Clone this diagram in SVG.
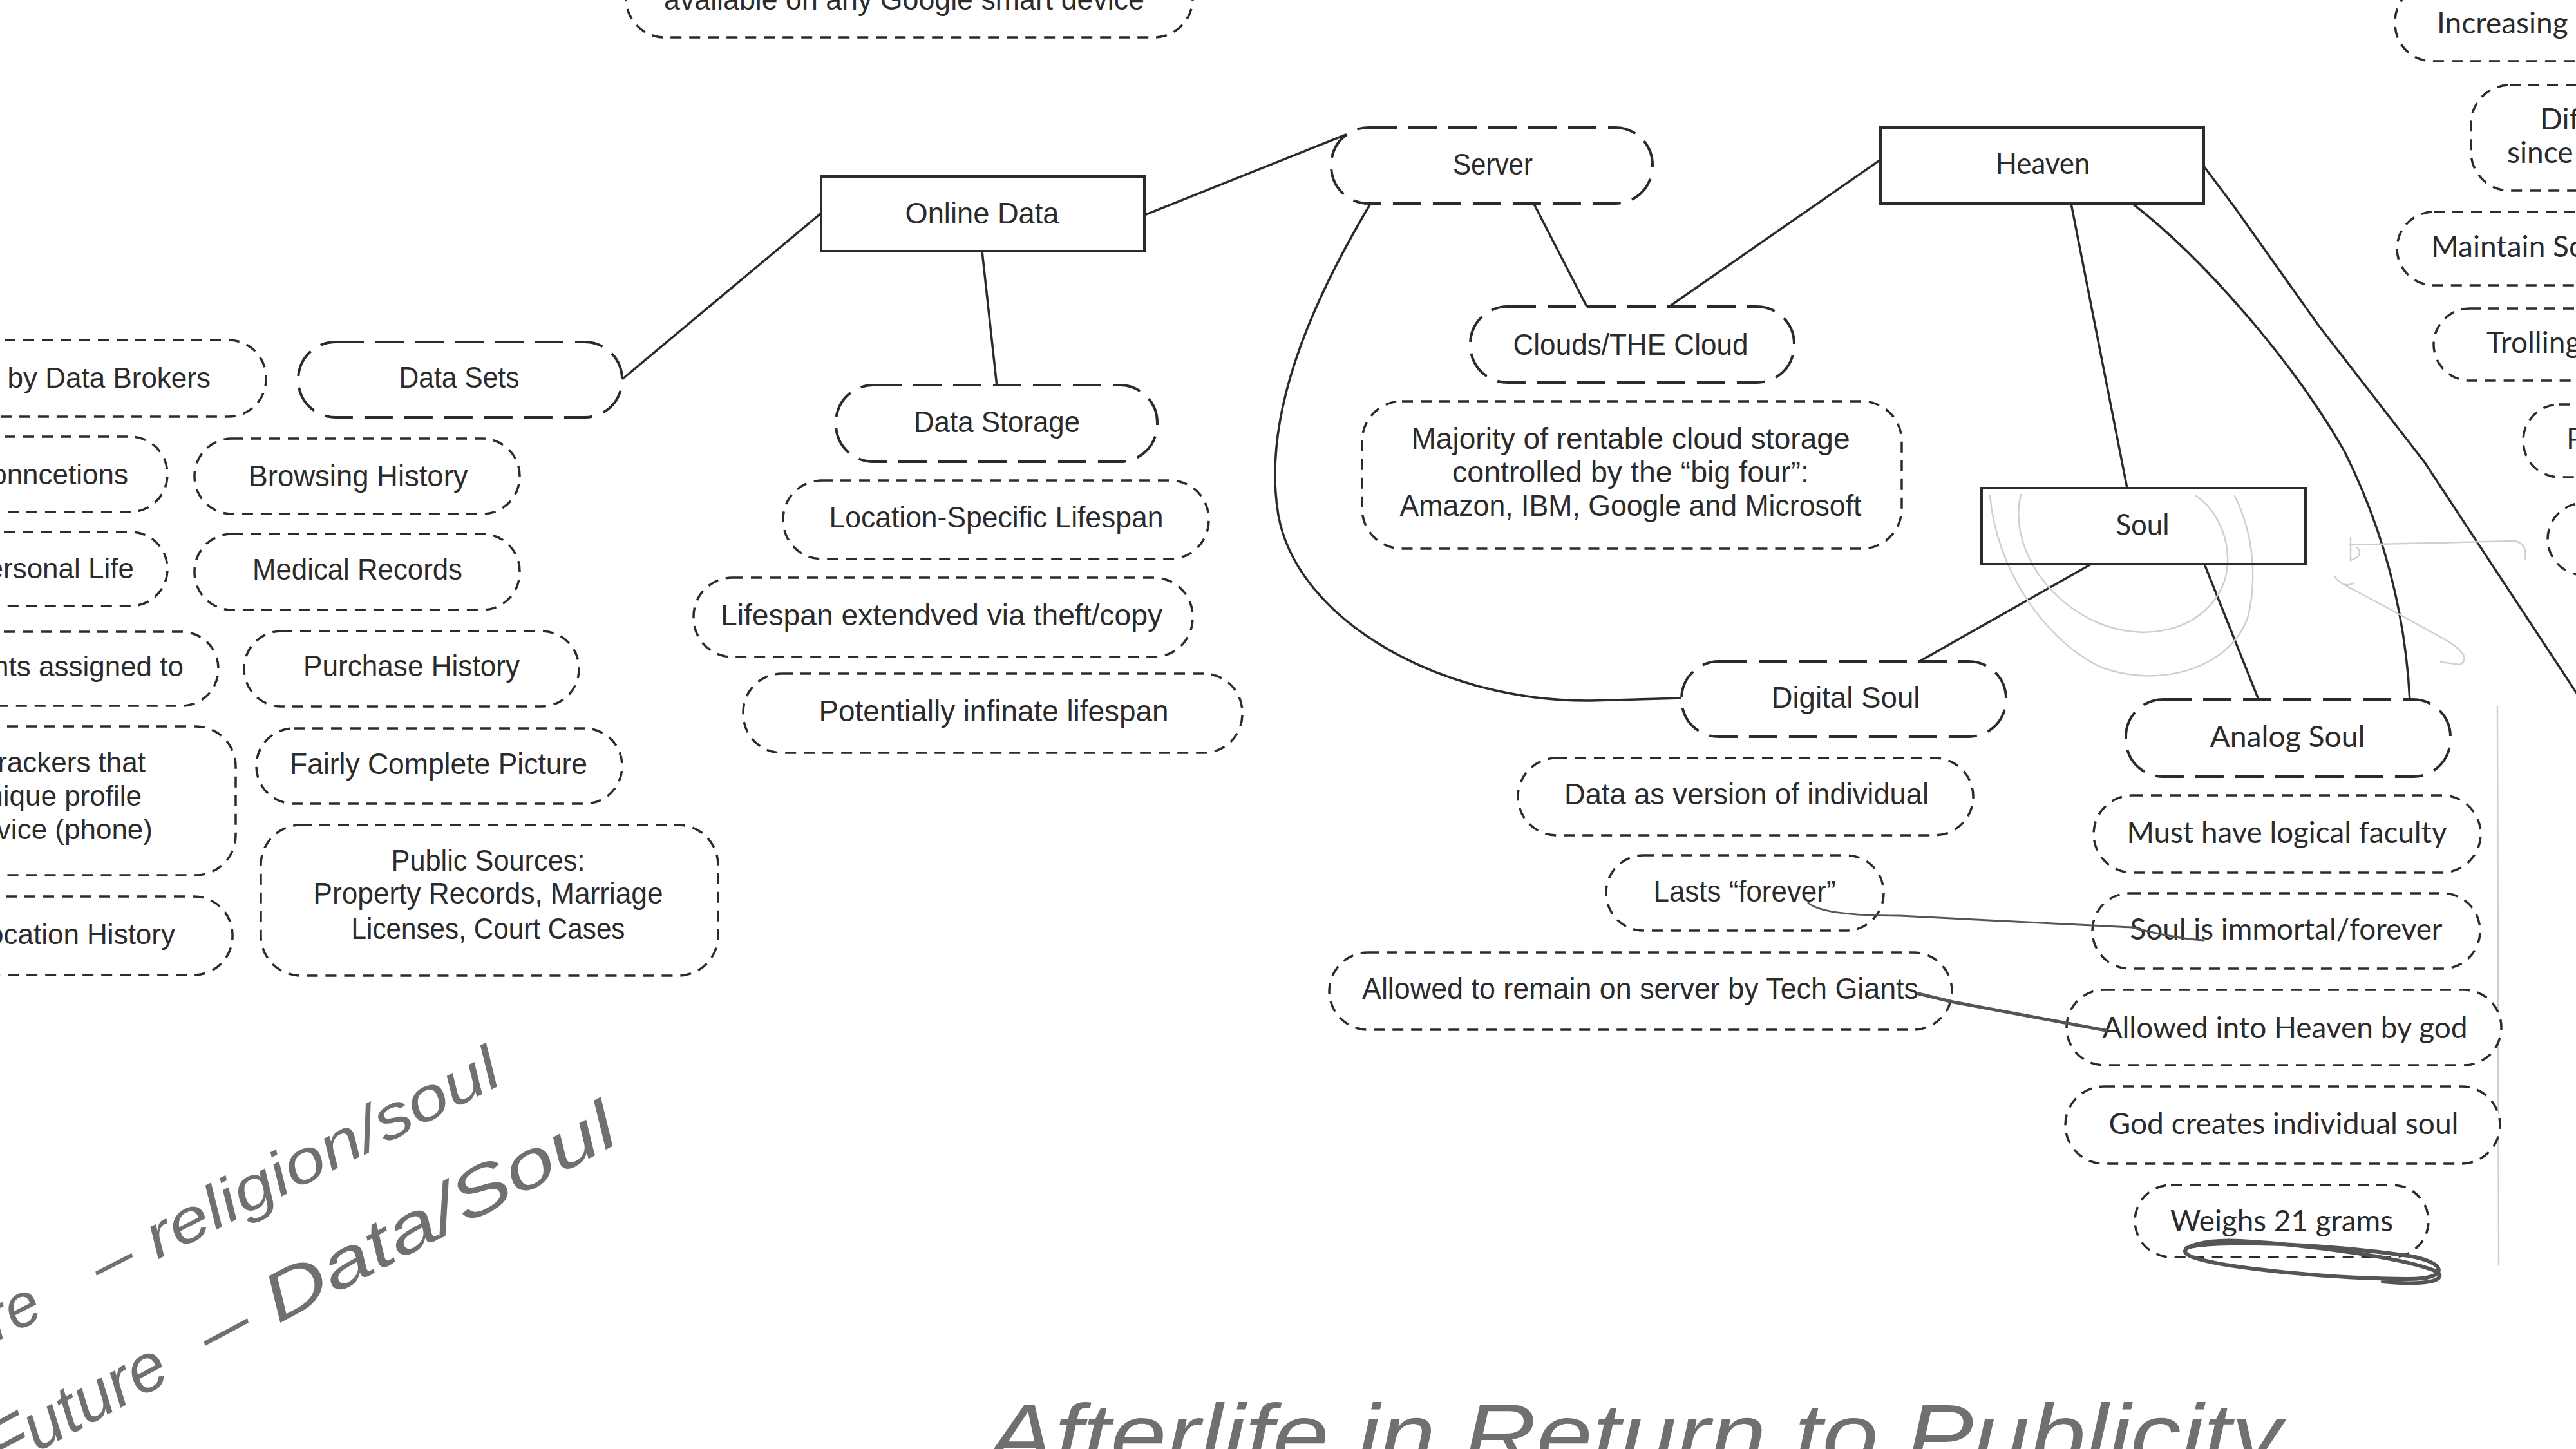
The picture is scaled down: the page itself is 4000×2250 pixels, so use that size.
<svg xmlns="http://www.w3.org/2000/svg" width="4000" height="2250" viewBox="0 0 4000 2250">
<style>
  .solid{fill:#fff;stroke:#2b2b2b;stroke-width:4}
  .ld{fill:#fff;stroke:#2b2b2b;stroke-width:4;stroke-dasharray:44 18}
  .sd{fill:#fff;stroke:#2b2b2b;stroke-width:3.5;stroke-dasharray:17 12}
  .t{font-family:"Liberation Sans",Arial,sans-serif;font-size:46px;fill:#2b2b2b;text-anchor:middle}
  .te{font-family:"Liberation Sans",Arial,sans-serif;font-size:44px;fill:#2b2b2b;text-anchor:end}
  .g{font-family:Lato,"Open Sans",sans-serif;font-size:46px;fill:#2b2b2b;text-anchor:middle}
  .gs{font-family:Lato,"Open Sans",sans-serif;font-size:46px;fill:#2b2b2b;text-anchor:start}
  .conn{fill:none;stroke:#2b2b2b;stroke-width:3.5}
  .pen{fill:none;stroke:#555;stroke-linecap:round;stroke-linejoin:round}
  .faint{fill:none;stroke:#cfcfcf;stroke-width:2.5;stroke-linecap:round}
  .hw{font-family:"Liberation Sans",Arial,sans-serif;fill:#707070;font-style:italic}
</style>
<rect x="0" y="0" width="4000" height="2250" fill="#fff"/>

<g id="connectors">
  <path class="conn" d="M966,589 L1275,331"/>
  <path class="conn" d="M1525,390 L1548,600"/>
  <path class="conn" d="M1777,334 L2090,209"/>
  <path class="conn" d="M2381,315 L2465,478"/>
  <path class="conn" d="M2920,248 L2589,478"/>
  <path class="conn" d="M2130,313 C2030,480 1960,650 1985,800 C2015,965 2240,1090 2470,1088 L2612,1084"/>
  <path class="conn" d="M3216,316 L3303,758"/>
  <path class="conn" d="M3311,316 C3420,400 3560,560 3640,700 C3700,820 3735,950 3742,1088"/>
  <path class="conn" d="M3422,258 L3470,322 L3600,505 L3765,718 L4010,1090"/>
  <path class="conn" d="M3247,876 L2977,1029"/>
  <path class="conn" d="M3423,876 L3507,1086"/>
</g>

<g id="faint-marks">
  <path class="faint" d="M3138,768 C3120,840 3170,930 3260,968 C3340,1000 3430,975 3455,900 C3470,840 3440,790 3410,770"/>
  <path class="faint" d="M3090,770 C3100,880 3170,990 3260,1035 C3350,1070 3460,1040 3490,960 C3505,900 3500,830 3470,770"/>
  <path class="faint" d="M3648,846 L3905,840 Q3925,845 3921,868"/>
  <path class="faint" d="M3650,835 L3650,870 Q3672,862 3660,850"/>
  <path class="faint" d="M3625,895 Q3640,915 3655,905 M3640,908 Q3720,950 3800,995 Q3840,1020 3820,1032 L3790,1028"/>
  <path class="faint" d="M3878,1097 L3880,1964" stroke="#e2e2e2"/>
</g>

<g id="n-google"><rect class="sd" x="972" y="-120" width="880" height="178" rx="60"/><text class="t" x="1404" y="15" textLength="746" lengthAdjust="spacingAndGlyphs">available on any Google smart device</text></g>
<g id="n-online"><rect class="solid" x="1275" y="274" width="502" height="116"/><text class="t" x="1525" y="347" textLength="239" lengthAdjust="spacingAndGlyphs">Online Data</text></g>
<g id="n-server"><rect class="ld" x="2067" y="198" width="499" height="118" rx="58"/><text class="t" x="2318" y="271" textLength="124" lengthAdjust="spacingAndGlyphs">Server</text></g>
<g id="n-heaven"><rect class="solid" x="2920" y="198" width="502" height="118"/><text class="g" x="3172" y="270" textLength="147" lengthAdjust="spacingAndGlyphs">Heaven</text></g>
<g id="n-clouds"><rect class="ld" x="2283" y="476" width="503" height="118" rx="58"/><text class="t" x="2532" y="551" textLength="365" lengthAdjust="spacingAndGlyphs">Clouds/THE Cloud</text></g>
<g id="n-majority"><rect class="sd" x="2115" y="623" width="838" height="229" rx="62"/>
  <text class="t" x="2532" y="697" textLength="681" lengthAdjust="spacingAndGlyphs">Majority of rentable cloud storage</text>
  <text class="t" x="2532" y="749" textLength="554" lengthAdjust="spacingAndGlyphs">controlled by the “big four”:</text>
  <text class="t" x="2532" y="801" textLength="717" lengthAdjust="spacingAndGlyphs">Amazon, IBM, Google and Microsoft</text></g>

<g id="n-datasets"><rect class="ld" x="463" y="531" width="503" height="117" rx="58"/><text class="t" x="713" y="602" textLength="187" lengthAdjust="spacingAndGlyphs">Data Sets</text></g>
<g id="n-brokers"><rect class="sd" x="-80" y="528" width="493" height="119" rx="58"/><text class="te" x="327" y="602">Sold by Data Brokers</text></g>
<g id="n-browsing"><rect class="sd" x="302" y="681" width="505" height="117" rx="58"/><text class="t" x="556" y="755" textLength="341" lengthAdjust="spacingAndGlyphs">Browsing History</text></g>
<g id="n-connections"><rect class="sd" x="-80" y="678" width="340" height="117" rx="58"/><text class="te" x="199" y="752">Social Conncetions</text></g>
<g id="n-medical"><rect class="sd" x="302" y="829" width="505" height="118" rx="58"/><text class="t" x="555" y="900" textLength="326" lengthAdjust="spacingAndGlyphs">Medical Records</text></g>
<g id="n-personal"><rect class="sd" x="-80" y="826" width="340" height="115" rx="57"/><text class="te" x="208" y="898">Personal Life</text></g>
<g id="n-purchase"><rect class="sd" x="379" y="980" width="520" height="117" rx="58"/><text class="t" x="639" y="1050" textLength="336" lengthAdjust="spacingAndGlyphs">Purchase History</text></g>
<g id="n-assigned"><rect class="sd" x="-80" y="981" width="419" height="115" rx="57"/><text class="te" x="285" y="1050">Accounts assigned to</text></g>
<g id="n-fairly"><rect class="sd" x="398" y="1131" width="568" height="117" rx="58"/><text class="t" x="681" y="1202" textLength="462" lengthAdjust="spacingAndGlyphs">Fairly Complete Picture</text></g>
<g id="n-trackers"><rect class="sd" x="-80" y="1128" width="446" height="231" rx="62"/>
  <text class="te" x="226" y="1199">Trackers that</text>
  <text class="te" x="220" y="1251">unique profile</text>
  <text class="te" x="237" y="1303">device (phone)</text></g>
<g id="n-public"><rect class="sd" x="405" y="1281" width="710" height="234" rx="62"/>
  <text class="t" x="758" y="1352" textLength="301" lengthAdjust="spacingAndGlyphs">Public Sources:</text>
  <text class="t" x="758" y="1403" textLength="543" lengthAdjust="spacingAndGlyphs">Property Records, Marriage</text>
  <text class="t" x="758" y="1458" textLength="425" lengthAdjust="spacingAndGlyphs">Licenses, Court Cases</text></g>
<g id="n-location"><rect class="sd" x="-80" y="1392" width="441" height="122" rx="60"/><text class="te" x="272" y="1466">Location History</text></g>

<g id="n-storage"><rect class="ld" x="1298" y="598" width="499" height="119" rx="58"/><text class="t" x="1548" y="671" textLength="258" lengthAdjust="spacingAndGlyphs">Data Storage</text></g>
<g id="n-locspec"><rect class="sd" x="1216" y="746" width="661" height="122" rx="60"/><text class="t" x="1547" y="819" textLength="519" lengthAdjust="spacingAndGlyphs">Location-Specific Lifespan</text></g>
<g id="n-extended"><rect class="sd" x="1077" y="897" width="775" height="123" rx="60"/><text class="t" x="1462" y="971" textLength="686" lengthAdjust="spacingAndGlyphs">Lifespan extendved via theft/copy</text></g>
<g id="n-infinite"><rect class="sd" x="1154" y="1046" width="775" height="123" rx="60"/><text class="t" x="1543" y="1120" textLength="543" lengthAdjust="spacingAndGlyphs">Potentially infinate lifespan</text></g>

<g id="n-soul"><rect class="solid" x="3077" y="758" width="503" height="118" fill-opacity="0"/><text class="g" x="3327" y="831" textLength="83" lengthAdjust="spacingAndGlyphs">Soul</text></g>
<g id="n-digital"><rect class="ld" x="2611" y="1027" width="504" height="117" rx="58"/><text class="t" x="2866" y="1099" textLength="231" lengthAdjust="spacingAndGlyphs">Digital Soul</text></g>
<g id="n-analog"><rect class="ld" x="3301" y="1086" width="504" height="120" rx="58"/><text class="g" x="3552" y="1160" textLength="241" lengthAdjust="spacingAndGlyphs">Analog Soul</text></g>
<g id="n-dataver"><rect class="sd" x="2357" y="1177" width="707" height="120" rx="60"/><text class="t" x="2712" y="1249" textLength="566" lengthAdjust="spacingAndGlyphs">Data as version of individual</text></g>
<g id="n-lasts"><rect class="sd" x="2494" y="1328" width="431" height="117" rx="58"/><text class="t" x="2709" y="1400" textLength="283" lengthAdjust="spacingAndGlyphs">Lasts “forever”</text></g>
<g id="n-remain"><rect class="sd" x="2064" y="1479" width="967" height="120" rx="60"/><text class="t" x="2547" y="1551" textLength="864" lengthAdjust="spacingAndGlyphs">Allowed to remain on server by Tech Giants</text></g>
<g id="n-logical"><rect class="sd" x="3251" y="1235" width="601" height="120" rx="60"/><text class="g" x="3551" y="1309" textLength="497" lengthAdjust="spacingAndGlyphs">Must have logical faculty</text></g>
<g id="n-immortal"><rect class="sd" x="3249" y="1387" width="602" height="117" rx="58"/><text class="g" x="3550" y="1459" textLength="485" lengthAdjust="spacingAndGlyphs">Soul is immortal/forever</text></g>
<g id="n-intoheaven"><rect class="sd" x="3209" y="1537" width="675" height="117" rx="58"/><text class="g" x="3548" y="1612" textLength="567" lengthAdjust="spacingAndGlyphs">Allowed into Heaven by god</text></g>
<g id="n-creates"><rect class="sd" x="3207" y="1687" width="675" height="120" rx="60"/><text class="g" x="3546" y="1761" textLength="543" lengthAdjust="spacingAndGlyphs">God creates individual soul</text></g>
<g id="n-weighs"><rect class="sd" x="3315" y="1840" width="456" height="112" rx="56"/><text class="g" x="3543" y="1912" textLength="346" lengthAdjust="spacingAndGlyphs">Weighs 21 grams</text></g>

<g id="n-increasing"><rect class="sd" x="3719" y="-25" width="380" height="120" rx="58"/><text class="gs" x="3784" y="52">Increasing</text></g>
<g id="n-dif"><rect class="sd" x="3837" y="132" width="260" height="164" rx="60"/><text class="gs" x="3944" y="201">Difficult</text><text class="gs" x="3893" y="253">since</text></g>
<g id="n-maintain"><rect class="sd" x="3722" y="329" width="380" height="114" rx="57"/><text class="gs" x="3775" y="399">Maintain Social</text></g>
<g id="n-trolling"><rect class="sd" x="3779" y="479" width="320" height="112" rx="56"/><text class="gs" x="3861" y="548">Trolling</text></g>
<g id="n-privacy"><rect class="sd" x="3918" y="628" width="180" height="113" rx="56"/><text class="gs" x="3985" y="697">Privacy</text></g>
<g id="n-edge"><rect class="sd" x="3956" y="781" width="140" height="112" rx="56"/></g>

<g id="pencil">
  <path class="pen" stroke-width="3" d="M2808,1402 Q2830,1422 2950,1422 L3310,1440 Q3380,1458 3422,1460"/>
  <path class="pen" stroke-width="5" stroke="#4a4a4a" d="M2979,1543 L3033,1556 L3270,1600"/>
  <path class="pen" stroke-width="6" stroke="#4a4a4a" d="M3395,1938 C3430,1925 3600,1930 3740,1950 C3800,1960 3805,1986 3740,1986 C3620,1986 3440,1968 3400,1950 C3375,1938 3420,1924 3480,1927 C3600,1934 3740,1955 3785,1975 C3800,1990 3760,1996 3700,1990"/>
</g>

<g id="handwriting">
  <g transform="translate(160,1999) rotate(-27)">
    <text class="hw" x="-100" y="0" font-size="95" text-anchor="end">Before</text>
    <text class="hw" x="0" y="0" font-size="95" textLength="700" lengthAdjust="spacingAndGlyphs">– religion/soul</text>
  </g>
  <g transform="translate(330,2110) rotate(-28)">
    <text class="hw" x="-70" y="0" font-size="105" text-anchor="end">Future</text>
    <text class="hw" x="0" y="0" font-size="105" textLength="720" lengthAdjust="spacingAndGlyphs">– Data/Soul</text>
  </g>
  <text class="hw" x="1533" y="2275" font-size="135" textLength="2010" lengthAdjust="spacingAndGlyphs">Afterlife in Return to Publicity</text>
</g>
</svg>
